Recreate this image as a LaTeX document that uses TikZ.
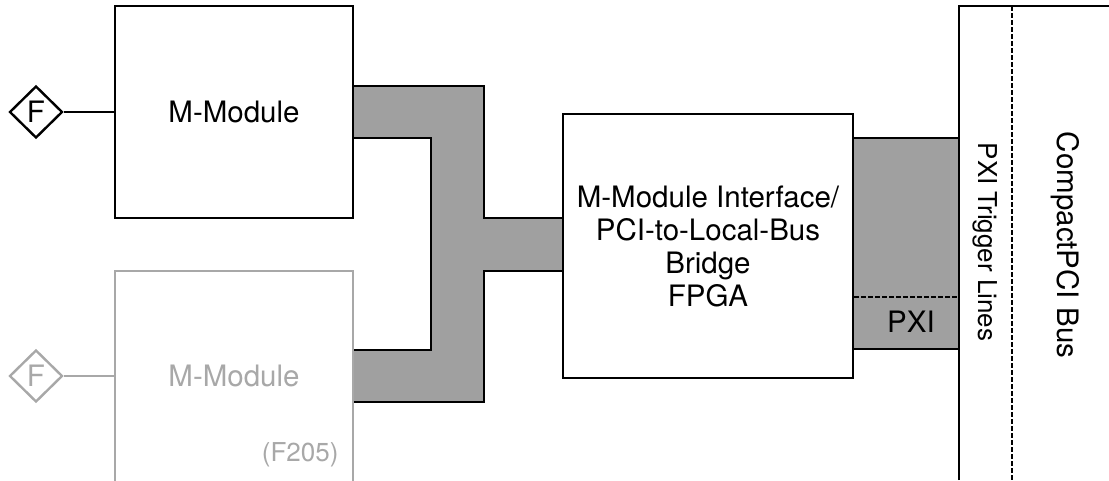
\documentclass[tikz,border=0pt]{standalone}
\usepackage{fontspec}
\setmainfont{TeX Gyre Heros}
\usetikzlibrary{shapes.geometric}
\definecolor{busgray}{RGB}{160,160,160}
\definecolor{ghost}{RGB}{168,168,168}
\tikzset{
  module/.style={draw,fill=white,inner sep=0pt,minimum width=238pt,minimum height=212pt},
  plug/.style={draw,diamond,fill=white,inner sep=0pt,minimum width=53pt,minimum height=52pt},
  txt/.style={font=\fontsize{29.5}{33}\selectfont},
  small/.style={font=\fontsize{26}{30}\selectfont},
  pin/.style={dash pattern=on 4.5pt off 2.5pt},
}
\begin{document}
\begin{tikzpicture}[x=1pt,y=-1pt,line width=2.4pt,txt]
    \useasboundingbox (0,0) rectangle (1109,480);
    \clip (0,0) rectangle (1109,480);
    % local bus between the modules and the bridge
    \fill[busgray] (353,86) -- (484,86) -- (484,218) -- (563,218) -- (563,271) -- (484,271)
      -- (484,402) -- (353,402) -- (353,350) -- (431,350) -- (431,138) -- (353,138) -- cycle;
    \draw (353,86) -- (484,86) -- (484,218) -- (563,218);
    \draw (563,271) -- (484,271) -- (484,402) -- (353,402);
    \draw (353,350) -- (431,350) -- (431,138) -- (353,138);
    \node[module] (mod) at (234,112) {M-Module};
    \node[plug] (plug) at (36,112) {F};
    \draw (plug.east) -- (mod.west);
    \begin{scope}[draw=ghost,text=ghost]
      \node[module,minimum height=260pt] (ghostmod) at (234,401) {};
      \node (ghostlabel) at (234,376) {M-Module};
      \node[small,anchor=east] (f205) at (343,455) {(F205)};
      \node[plug] (ghostplug) at (36,376) {F};
      \draw (ghostplug.east) -- (ghostplug.east -| ghostmod.west);
    \end{scope}
    \node[draw,fill=white,align=center,inner sep=0pt,minimum width=290pt,minimum height=264pt] (bridge) at (708,246)
      {M-Module Interface/\\PCI-to-Local-Bus\\Bridge\\FPGA};
    % compactPCI connector with PXI part
    \fill[busgray] (bridge.east |- 0,138) rectangle (959,349);
    \draw (bridge.east |- 0,138) -- (959,138);
    \draw (bridge.east |- 0,349) -- (959,349);
    \draw[pin] (bridge.east |- 0,297) -- (959,297);
    \node (pxi) at (911,322) {PXI};
    \draw (959,480) -- (959,6) -- (1109,6);
    \draw[pin] (1012,6) -- (1012,480);
    \node[small,rotate=-90] (trig) at (985,242) {PXI Trigger Lines};
    \node[rotate=-90] (cpci) at (1065,245) {CompactPCI Bus};
\end{tikzpicture}
\end{document}
